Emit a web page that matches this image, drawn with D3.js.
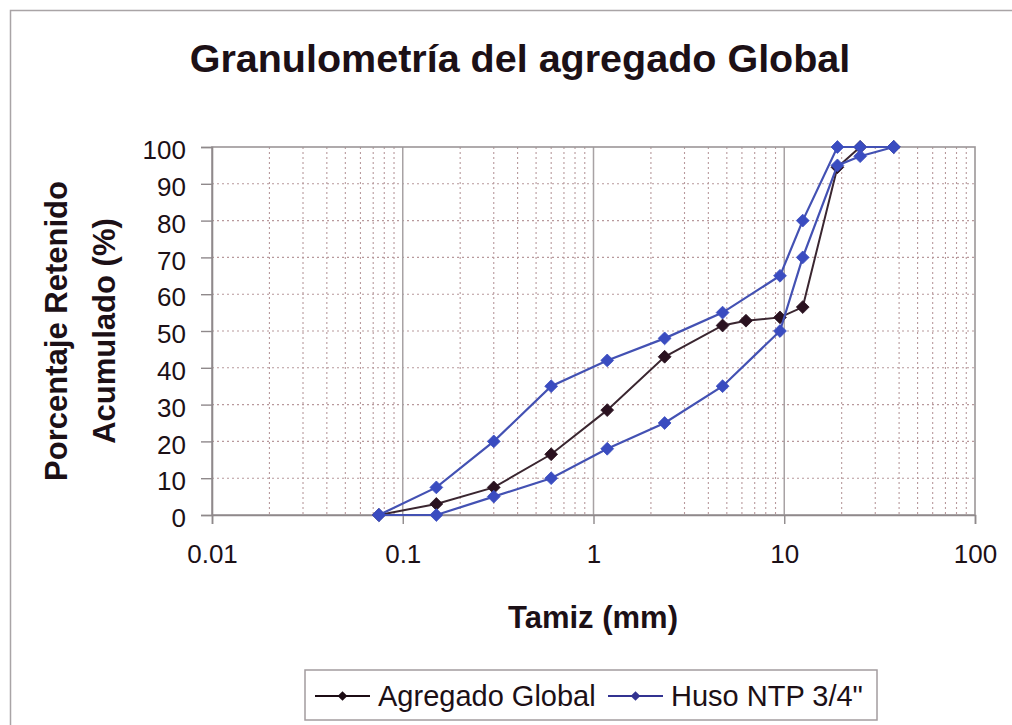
<!DOCTYPE html>
<html><head><meta charset="utf-8">
<script src="https://cdn.jsdelivr.net/npm/d3@7"></script>
<style>
html,body{margin:0;padding:0;background:#fff;}
svg{display:block;font-family:"Liberation Sans",Arial,sans-serif;}
</style></head>
<body>
<svg id="c" width="1012" height="725"></svg>
<script>
// ---- data ----
const agregadoSieves = [0.075, 0.15, 0.3, 0.6, 1.18, 2.36, 4.75, 6.3, 9.5, 12.5, 19, 25, 37.5];
const agregadoValues = [0, 3, 7.5, 16.5, 28.5, 43, 51.5, 52.8, 53.7, 56.5, 94.5, 100, 100];
const husoSieves = [0.075, 0.15, 0.3, 0.6, 1.18, 2.36, 4.75, 9.5, 12.5, 19, 25, 37.5];
const husoUpper = [0, 7.5, 20, 35, 42, 48, 55, 65, 80, 100, 100, 100];
const husoLower = [0, 0, 5, 10, 18, 25, 35, 50, 70, 95, 97.5, 100];
const xTicks = [0.01, 0.1, 1, 10, 100];
const xTickLabels = ["0.01", "0.1", "1", "10", "100"];
const yTicks = [0, 10, 20, 30, 40, 50, 60, 70, 80, 90, 100];
const seriesNames = ["Agregado Global", "Huso NTP 3/4\""];
const titleText = "Granulometría del agregado Global";
const xTitle = "Tamiz (mm)";
const yTitle = ["Porcentaje Retenido", "Acumulado (%)"];

// ---- layout ----
const svg = d3.select("#c");
const L = 212, R = 975, T = 147, B = 515;
const x = d3.scaleLog().domain([0.01, 100]).range([L, R]);
const y = d3.scaleLinear().domain([0, 100]).range([B, T]);
const txt = "#1c1016";
const blueLine = "#4351b3", blueMark = "#3a4cc0";
const darkLine = "#3a2630", darkMark = "#2a1220";

// outer chart border
svg.append("rect").attr("x", 10.5).attr("y", 10.5).attr("width", 1010).attr("height", 720)
  .attr("fill", "#fff").attr("stroke", "#a9a4a6").attr("stroke-width", 1.5);

// minor vertical gridlines (dotted)
const minor = [];
for (let e = -2; e < 2; e++) for (let k = 2; k <= 9; k++) minor.push(k * Math.pow(10, e));
svg.append("g").selectAll("line").data(minor).join("line")
  .attr("x1", d => x(d)).attr("x2", d => x(d)).attr("y1", T).attr("y2", B)
  .attr("stroke", "#b8999c").attr("stroke-width", 1.1).attr("stroke-dasharray", "2,3");

// horizontal gridlines (dotted)
svg.append("g").selectAll("line").data(yTicks.filter(d => d > 0 && d < 100)).join("line")
  .attr("x1", L).attr("x2", R).attr("y1", d => y(d)).attr("y2", d => y(d))
  .attr("stroke", "#b8999c").attr("stroke-width", 1.1).attr("stroke-dasharray", "2,3");

// major vertical gridlines
svg.append("g").selectAll("line").data(xTicks.slice(1, -1)).join("line")
  .attr("x1", d => x(d)).attr("x2", d => x(d)).attr("y1", T).attr("y2", B)
  .attr("stroke", "#a8a2a4").attr("stroke-width", 1.5);

// plot border
svg.append("rect").attr("x", L).attr("y", T).attr("width", R - L).attr("height", B - T)
  .attr("fill", "none").attr("stroke", "#9c9698").attr("stroke-width", 1.6);

// axes
const yAxis = d3.axisLeft(y).tickValues(yTicks).tickSize(11).tickPadding(15).tickFormat(d3.format("d"));
const gy = svg.append("g").attr("transform", `translate(${L},0)`).call(yAxis);
gy.select(".domain").attr("stroke", "#8f898b").attr("stroke-width", 1.6);
gy.selectAll(".tick line").attr("stroke", "#8f898b").attr("stroke-width", 1.4);
gy.selectAll(".tick text").attr("font-size", 26).attr("fill", txt).attr("dy", "0.45em")
  .attr("font-family", "'Liberation Sans', Arial, sans-serif");

const xAxis = d3.axisBottom(x).tickValues(xTicks).tickSize(9).tickPadding(21)
  .tickFormat((d, i) => xTickLabels[i]);
const gx = svg.append("g").attr("transform", `translate(0,${B})`).call(xAxis);
gx.select(".domain").attr("stroke", "#8f898b").attr("stroke-width", 1.6);
gx.selectAll(".tick line").attr("stroke", "#8f898b").attr("stroke-width", 1.4);
gx.selectAll(".tick text").attr("font-size", 26).attr("fill", txt)
  .attr("font-family", "'Liberation Sans', Arial, sans-serif");

// series
const line = d3.line().x(d => x(d[0])).y(d => y(d[1]));
const diamond = d3.symbol().type(d3.symbolDiamond2).size(105);
function drawSeries(sieves, vals, lc, mc, lw) {
  const pts = sieves.map((s, i) => [s, vals[i]]);
  svg.append("path").datum(pts).attr("d", line).attr("fill", "none")
    .attr("stroke", lc).attr("stroke-width", lw);
  svg.append("g").selectAll("path").data(pts).join("path")
    .attr("d", diamond).attr("transform", d => `translate(${x(d[0])},${y(d[1])})`)
    .attr("fill", mc).attr("stroke", mc).attr("stroke-width", 0.8);
}
drawSeries(agregadoSieves, agregadoValues, darkLine, darkMark, 2);
drawSeries(husoSieves, husoUpper, blueLine, blueMark, 2.2);
drawSeries(husoSieves, husoLower, blueLine, blueMark, 2.2);

// titles
svg.append("text").attr("x", 520).attr("y", 72).attr("text-anchor", "middle")
  .attr("font-size", 39.5).attr("font-weight", "bold").attr("fill", txt).text(titleText);
svg.append("text").attr("x", 593).attr("y", 628).attr("text-anchor", "middle")
  .attr("font-size", 31).attr("font-weight", "bold").attr("fill", txt).text(xTitle);
const yt = svg.append("text").attr("transform", "translate(56,331) rotate(-90)")
  .attr("text-anchor", "middle").attr("font-size", 31).attr("font-weight", "bold").attr("fill", txt);
yt.append("tspan").attr("x", 0).attr("dy", "0.35em").text(yTitle[0]);
yt.append("tspan").attr("x", 0).attr("dy", 48).text(yTitle[1]);

// legend
svg.append("rect").attr("x", 305).attr("y", 670).attr("width", 572).attr("height", 50)
  .attr("fill", "#fff").attr("stroke", "#a39c9f").attr("stroke-width", 1.5);
const legItems = [
  {name: seriesNames[0], lc: "#1c0c14", mc: "#1c0c14", x0: 315},
  {name: seriesNames[1], lc: "#333391", mc: "#333391", x0: 608}
];
legItems.forEach(it => {
  svg.append("line").attr("x1", it.x0).attr("x2", it.x0 + 55).attr("y1", 696).attr("y2", 696)
    .attr("stroke", it.lc).attr("stroke-width", 2);
  svg.append("path").attr("d", d3.symbol().type(d3.symbolDiamond2).size(60))
    .attr("transform", `translate(${it.x0 + 27.5},696)`).attr("fill", it.mc);
  svg.append("text").attr("x", it.x0 + 63).attr("y", 706).attr("font-size", 29)
    .attr("fill", txt).text(it.name);
});
</script>
</body></html>
